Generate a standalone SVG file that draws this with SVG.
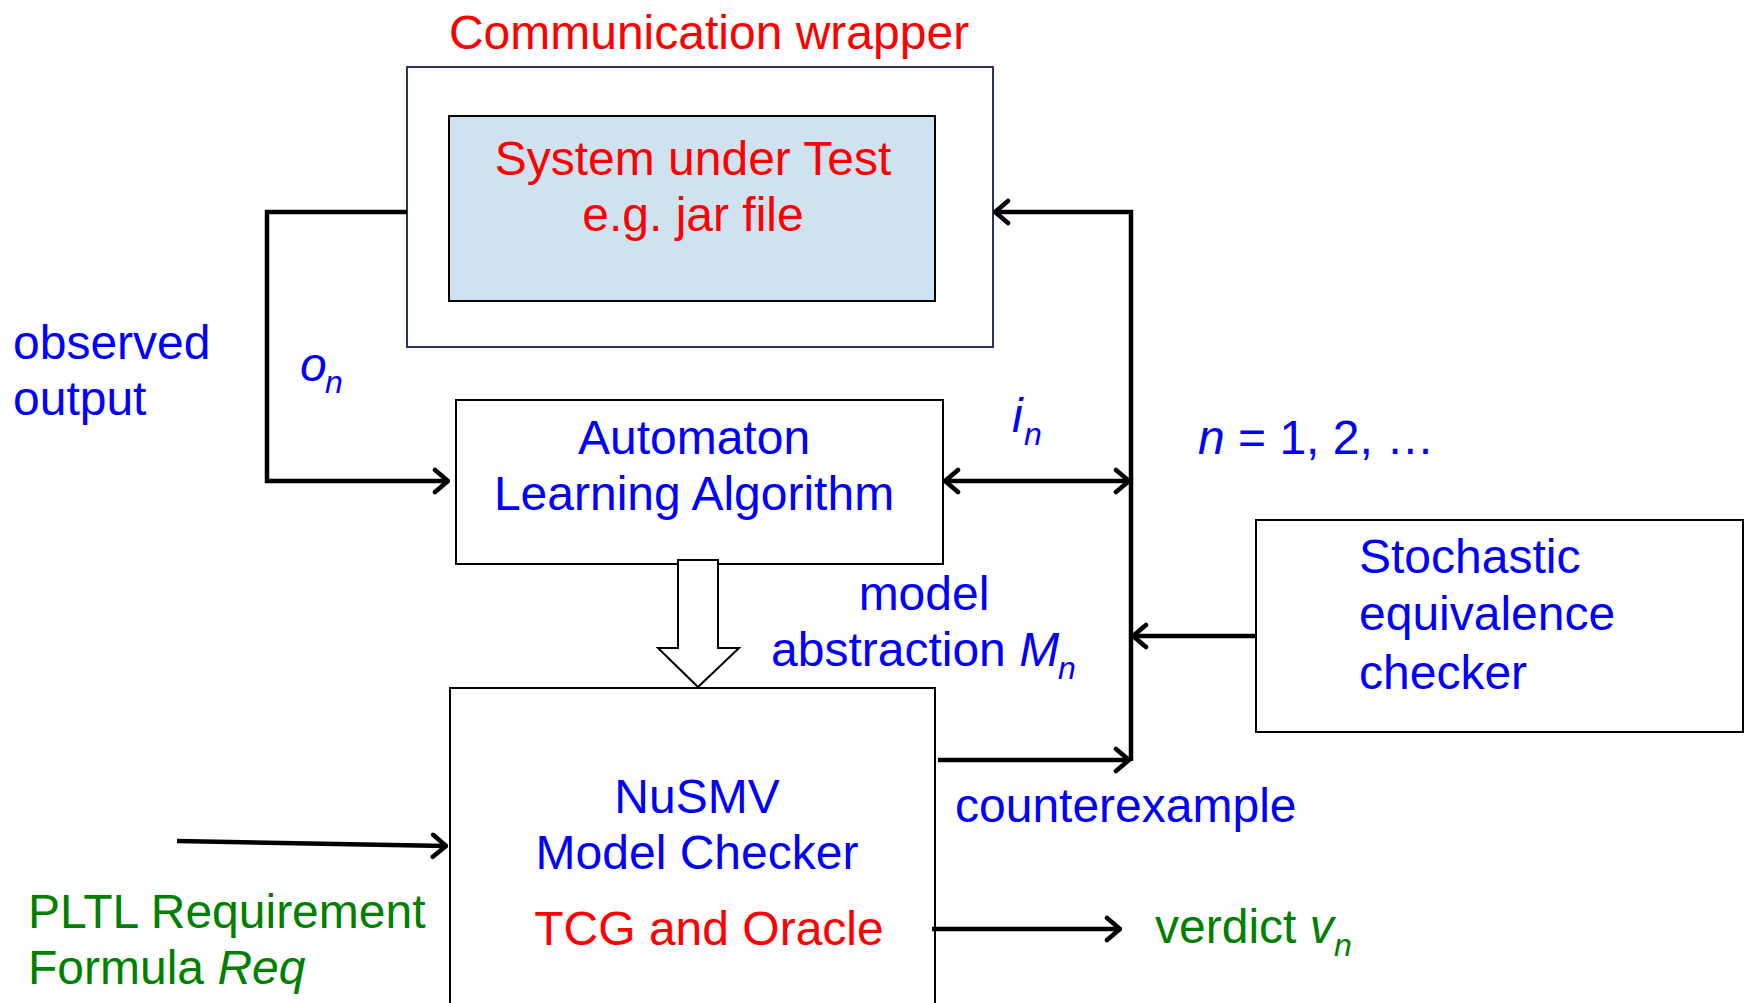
<svg xmlns="http://www.w3.org/2000/svg" width="1750" height="1003" viewBox="0 0 1750 1003">
<style>
text{font-family:"Liberation Sans",Arial,sans-serif;font-size:48px}
.b{fill:#0000ff}.r{fill:#ff0000}.g{fill:#008000}
.sub{font-size:32px;font-style:italic}
.it{font-style:italic}
.box{fill:#ffffff;stroke:#000;stroke-width:2}
.con{fill:none;stroke:#000;stroke-width:4.5}
</style>
<defs>
<marker id="ah" viewBox="0 0 18 28" refX="16" refY="14" markerWidth="18" markerHeight="28" markerUnits="userSpaceOnUse" orient="auto-start-reverse">
<path d="M3,3 L16,14 L3,25" fill="none" stroke="#000" stroke-width="4.5" stroke-linecap="round" stroke-linejoin="round"/>
</marker>
</defs>
<rect width="1750" height="1003" fill="#fff"/>
<g id="wrapper">
<text class="r" x="709" y="49" text-anchor="middle">Communication wrapper</text>
<rect x="407" y="67" width="586" height="280" fill="#fff" stroke="#2a3366" stroke-width="2"/>
</g>
<g id="sut">
<rect x="449" y="116" width="486" height="185" fill="#cfe2f0" stroke="#000" stroke-width="2"/>
<text class="r" x="693" y="175" text-anchor="middle">System under Test</text>
<text class="r" x="693" y="231" text-anchor="middle">e.g. jar file</text>
</g>
<g id="learner">
<rect class="box" x="456" y="400" width="487" height="164"/>
<text class="b" x="694" y="454" text-anchor="middle">Automaton</text>
<text class="b" x="694" y="510" text-anchor="middle">Learning Algorithm</text>
</g>
<g id="checker">
<rect class="box" x="1256" y="520" width="487" height="212"/>
<text class="b" x="1359" y="573">Stochastic</text>
<text class="b" x="1359" y="630">equivalence</text>
<text class="b" x="1359" y="689">checker</text>
</g>
<g id="nusmv">
<rect class="box" x="450" y="688" width="485" height="330"/>
<text class="b" x="697" y="813" text-anchor="middle">NuSMV</text>
<text class="b" x="697" y="869" text-anchor="middle">Model Checker</text>
<text class="r" x="709" y="945" text-anchor="middle">TCG and Oracle</text>
</g>
<g id="connectors">
<polyline class="con" points="407,212 267,212 267,481 448,481" marker-end="url(#ah)"/>
<polyline class="con" points="1131,761 1131,212 995,212" marker-end="url(#ah)"/>
<line class="con" x1="945" y1="481" x2="1129" y2="481" marker-start="url(#ah)" marker-end="url(#ah)"/>
<line class="con" x1="1256" y1="636" x2="1133" y2="636" marker-end="url(#ah)"/>
<line class="con" x1="938" y1="760" x2="1129" y2="760" marker-end="url(#ah)"/>
<line class="con" x1="177" y1="841" x2="446" y2="846" marker-end="url(#ah)"/>
<line class="con" x1="932" y1="929" x2="1120" y2="929" marker-end="url(#ah)"/>
<polygon points="678,560 718,560 718,648 739,648 698,687 658,648 678,648" fill="#fff" stroke="#000" stroke-width="2"/>
</g>
<g id="labels">
<text class="b" x="13" y="359">observed</text>
<text class="b" x="13" y="415">output</text>
<text class="b it" x="300" y="381">o</text><text class="b sub" x="325" y="393">n</text>
<text class="b it" x="1012" y="432">i</text><text class="b sub" x="1024" y="445">n</text>
<text class="b" x="1198" y="454"><tspan class="it">n</tspan> = 1, 2, …</text>
<text class="b" x="924" y="610" text-anchor="middle">model</text>
<text class="b" x="771" y="666">abstraction <tspan class="it">M</tspan></text>
<text class="b sub" x="1058" y="679">n</text>
<text class="b" x="955" y="822">counterexample</text>
<text class="g" x="28" y="928">PLTL Requirement</text>
<text class="g" x="28" y="984">Formula <tspan class="it">Req</tspan></text>
<text class="g" x="1155" y="943">verdict <tspan class="it">v</tspan></text>
<text class="g sub" x="1334" y="956">n</text>
</g>
</svg>
